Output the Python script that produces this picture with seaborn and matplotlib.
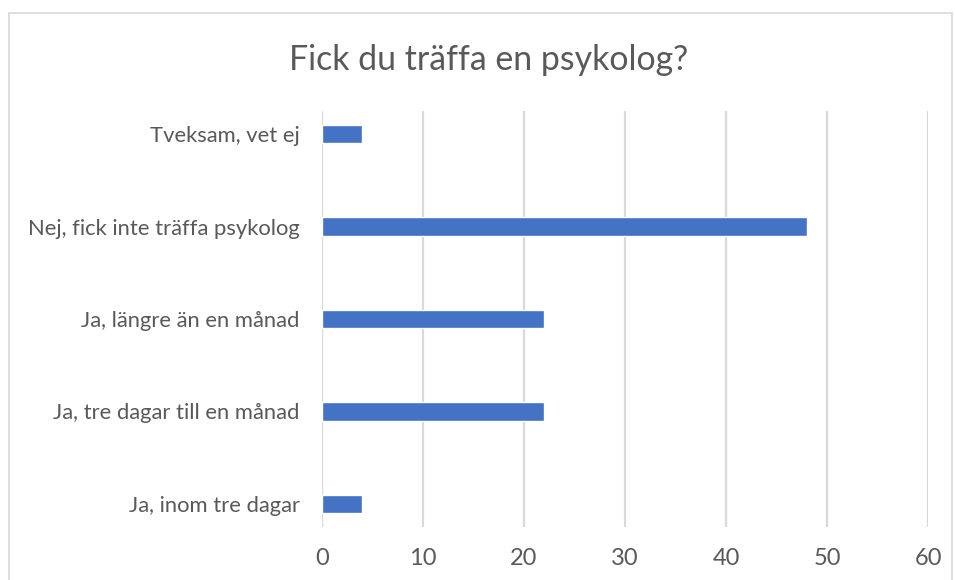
import matplotlib
matplotlib.use("Agg")
import matplotlib.pyplot as plt
import seaborn as sns
import pandas as pd
from matplotlib.patches import Rectangle

categories = [
    "Tveksam, vet ej",
    "Nej, fick inte träffa psykolog",
    "Ja, längre än en månad",
    "Ja, tre dagar till en månad",
    "Ja, inom tre dagar",
]
values = [4, 48, 22, 22, 4]
xticks = [0, 10, 20, 30, 40, 50, 60]
title = "Fick du träffa en psykolog?"

sns.set_theme(style="white")
plt.rcParams["font.family"] = ["Lato", "DejaVu Sans"]

TEXT = "#595959"
BAR = "#4472C4"
GRID = "#D9D9D9"

W, H = 955, 580
fig = plt.figure(figsize=(W / 100, H / 100), dpi=100)
fig.patch.set_facecolor("white")

# chart border
fig.patches.append(Rectangle((9 / W, -0.05), (952 - 9) / W, 1.05 - 13 / H,
                             transform=fig.transFigure, fill=False,
                             edgecolor="#D9D9D9", linewidth=1.2, zorder=0))

left, right = 322 / W, 928 / W
top, bottom = 1 - 111 / H, 1 - 527 / H
ax = fig.add_axes([left, bottom, right - left, top - bottom])

df = pd.DataFrame({"category": categories, "value": values})
sns.barplot(data=df, x="value", y="category", orient="h", color=BAR,
            width=0.2, saturation=1, ax=ax, zorder=3)

ax.set_xlim(0, 60)
ax.set_ylim(4.25, -0.25)
ax.set_xticks(xticks)
ax.set_xticklabels([str(t) for t in xticks])
ax.grid(axis="x", color=GRID, linewidth=1.6, zorder=0)
ax.grid(axis="y", visible=False)
for s in ax.spines.values():
    s.set_visible(False)
ax.set_xlabel("")
ax.set_ylabel("")
ax.tick_params(axis="x", length=0, pad=15, labelsize=17, labelcolor=TEXT)
ax.tick_params(axis="y", length=0, pad=16, labelsize=15.8, labelcolor=TEXT)

fig.text(489 / W, 1 - 60 / H, title, ha="center", va="center",
         fontsize=24.4, color=TEXT)

fig.savefig("out.png", dpi=100)
